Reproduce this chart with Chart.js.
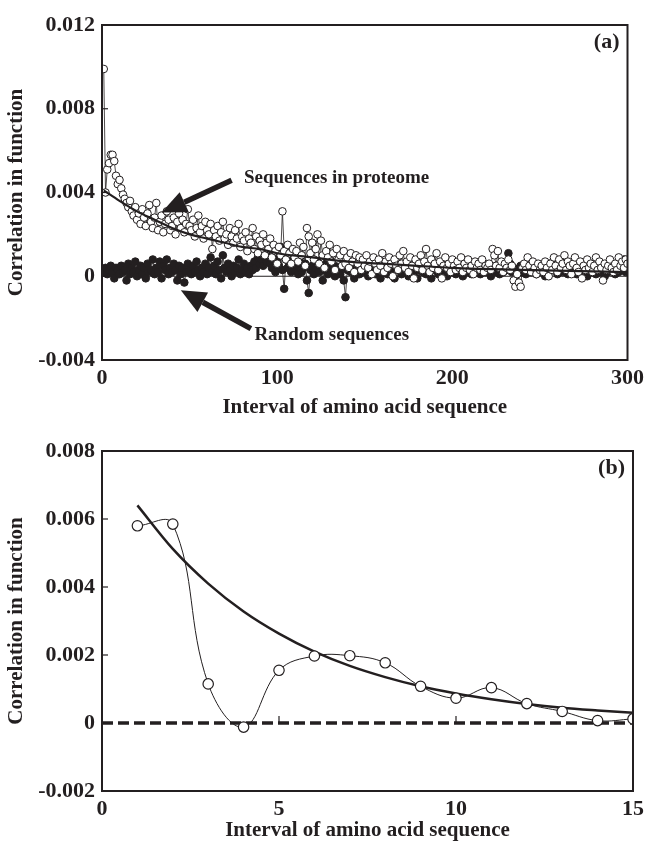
<!DOCTYPE html>
<html>
<head>
<meta charset="utf-8">
<script src="https://cdn.jsdelivr.net/npm/chart.js@4.4.0/dist/chart.umd.min.js"></script>
<style>
  body { margin: 0; background: #fff; }
  canvas { position: absolute; left: 0; }
</style>
</head>
<body>
<canvas id="chartA" width="649" height="420" style="top:0"></canvas>
<canvas id="chartB" width="649" height="423" style="top:420px"></canvas>
<script>
// ---- panel (a) : lags 1..300
const lagsA = Array.from({ length: 300 }, (_, i) => i + 1);

const proteome = [
  0.0099, 0.0040, 0.0051, 0.0054, 0.0058, 0.0058, 0.0055, 0.0048, 0.0044, 0.0046,
  0.0042, 0.0039, 0.0037, 0.0035, 0.0033, 0.0036, 0.0031, 0.0029, 0.0033, 0.0027,
  0.0030, 0.0025, 0.0032, 0.0028, 0.0024, 0.0030, 0.0034, 0.0026, 0.0023, 0.0028,
  0.0035, 0.0022, 0.0026, 0.0029, 0.0021, 0.0025, 0.0031, 0.0027, 0.0022, 0.0024,
  0.0028, 0.0020, 0.0026, 0.0030, 0.0023, 0.0027, 0.0021, 0.0025, 0.0032, 0.0024,
  0.0022, 0.0027, 0.0019, 0.0023, 0.0029, 0.0021, 0.0024, 0.0018, 0.0026, 0.0022,
  0.0020, 0.0025, 0.0013, 0.0022, 0.0019, 0.0024, 0.0017, 0.0021, 0.0026, 0.0018,
  0.0020, 0.0015, 0.0023, 0.0019, 0.0016, 0.0022, 0.0018, 0.0025, 0.0014, 0.0019,
  0.0017, 0.0021, 0.0012, 0.0018, 0.0016, 0.0023, 0.0013, 0.0019, 0.0011, 0.0017,
  0.0015, 0.0020, 0.0010, 0.0016, 0.0013, 0.0018, 0.0009, 0.0015, 0.0012, 0.0006,
  0.0014, 0.0010, 0.0031, 0.0012, 0.0008, 0.0015, 0.0011, 0.0006, 0.0013, 0.0009,
  0.0012, 0.0007, 0.0016, 0.0010, 0.0014, 0.0005, 0.0023, 0.0019, 0.0011, 0.0016,
  0.0008, 0.0013, 0.0020, 0.0006, 0.0017, 0.0010, 0.0004, 0.0012, 0.0009, 0.0015,
  0.0007, 0.0011, 0.0003, 0.0013, 0.0008, 0.0010, 0.0005, 0.0012, 0.0006, 0.0009,
  0.0004, 0.0011, 0.0007, 0.0002, 0.0010, 0.0006, 0.0009, 0.0003, 0.0008, 0.0005,
  0.0010, 0.0004, 0.0007, 0.0001, 0.0009, 0.0006, 0.0003, 0.0008, 0.0005, 0.0011,
  0.0002, 0.0007, 0.0004, 0.0009, 0.0006, 0.0000, 0.0008, 0.0005, 0.0003, 0.0010,
  0.0006, 0.0012, 0.0004, 0.0007, 0.0002, 0.0009, 0.0005, -0.0001, 0.0008, 0.0004,
  0.0006, 0.0010, 0.0003, 0.0007, 0.0013, 0.0005, 0.0002, 0.0008, 0.0004, 0.0006,
  0.0011, 0.0003, 0.0007, -0.0001, 0.0005, 0.0009, 0.0004, 0.0006, 0.0002, 0.0008,
  0.0005, 0.0003, 0.0007, 0.0004, 0.0009, 0.0002, 0.0006, 0.0004, 0.0008, 0.0003,
  0.0005, 0.0001, 0.0007, 0.0004, 0.0006, 0.0003, 0.0008, 0.0002, 0.0005, 0.0004,
  0.0006, 0.0003, 0.0013, 0.0010, 0.0005, 0.0012, 0.0004, 0.0007, 0.0002, 0.0006,
  0.0004, 0.0008, 0.0003, 0.0005, -0.0002, -0.0005, 0.0001, -0.0003, -0.0005, 0.0004,
  0.0006, 0.0003, 0.0009, 0.0005, 0.0002, 0.0007, 0.0004, 0.0001, 0.0006, 0.0003,
  0.0005, 0.0002, 0.0007, 0.0004, 0.0000, 0.0006, 0.0003, 0.0009, 0.0005, 0.0002,
  0.0008, 0.0004, 0.0006, 0.0010, 0.0003, 0.0007, 0.0005, 0.0001, 0.0006, 0.0009,
  0.0004, 0.0002, 0.0007, -0.0001, 0.0005, 0.0003, 0.0008, 0.0004, 0.0006, 0.0002,
  0.0005, 0.0009, 0.0003, 0.0007, 0.0004, -0.0002, 0.0006, 0.0003, 0.0005, 0.0008,
  0.0004, 0.0002, 0.0006, 0.0003, 0.0009, 0.0005, 0.0007, 0.0004, 0.0008, 0.0006
];

const randomSeq = [
  0.0002, 0.0004, 0.0001, 0.0003, 0.0005, 0.0002, -0.0001, 0.0004, 0.0003, 0.0001,
  0.0005, 0.0002, 0.0003, -0.0002, 0.0006, 0.0001, 0.0004, 0.0002, 0.0007, 0.0000,
  0.0003, 0.0005, 0.0001, 0.0004, -0.0001, 0.0006, 0.0002, 0.0003, 0.0008, 0.0001,
  0.0004, 0.0002, 0.0007, -0.0001, 0.0005, 0.0003, 0.0008, 0.0001, 0.0004, 0.0002,
  0.0006, 0.0003, -0.0002, 0.0005, 0.0001, 0.0004, -0.0003, 0.0002, 0.0006, 0.0003,
  0.0001, 0.0005, 0.0002, 0.0007, 0.0003, 0.0000, 0.0004, 0.0002, 0.0006, 0.0001,
  0.0004, 0.0009, 0.0002, 0.0005, 0.0001, 0.0007, 0.0003, -0.0001, 0.0010, 0.0004,
  0.0002, 0.0006, 0.0003, 0.0000, 0.0005, 0.0002, 0.0004, 0.0008, 0.0001, 0.0003,
  0.0006, 0.0002, 0.0004, 0.0001, 0.0005, 0.0003, 0.0007, 0.0004, 0.0009, 0.0006,
  0.0008, 0.0005, 0.0010, 0.0007, 0.0012, 0.0006, 0.0004, 0.0009, 0.0002, 0.0007,
  0.0005, 0.0014, 0.0003, -0.0006, 0.0008, 0.0004, 0.0006, 0.0002, 0.0009, 0.0003,
  0.0005, 0.0001, 0.0007, 0.0002, 0.0004, 0.0006, -0.0002, -0.0008, 0.0003, 0.0005,
  0.0001, 0.0004, 0.0007, 0.0002, 0.0005, -0.0002, 0.0003, 0.0006, 0.0001, 0.0004,
  0.0002, 0.0005, 0.0000, 0.0003, 0.0006, 0.0001, 0.0004, -0.0002, -0.0010, 0.0003,
  0.0005, 0.0002, 0.0004, -0.0001, 0.0003, 0.0006, 0.0001, 0.0004, 0.0002, 0.0005,
  0.0003, 0.0000, 0.0004, 0.0002, 0.0006, 0.0001, 0.0003, 0.0005, -0.0001, 0.0004,
  0.0002, 0.0005, 0.0001, 0.0003, 0.0006, 0.0002, -0.0001, 0.0004, 0.0003, 0.0005,
  0.0001, 0.0004, 0.0002, 0.0006, 0.0000, 0.0003, 0.0005, 0.0002, 0.0004, -0.0001,
  0.0003, 0.0006, 0.0002, 0.0004, 0.0001, 0.0005, 0.0002, -0.0001, 0.0004, 0.0003,
  0.0005, 0.0001, 0.0004, 0.0002, 0.0006, 0.0003, 0.0000, 0.0004, 0.0002, 0.0005,
  0.0003, 0.0001, 0.0005, 0.0002, 0.0004, 0.0000, 0.0003, 0.0005, 0.0002, 0.0004,
  0.0001, 0.0003, 0.0005, 0.0002, 0.0004, 0.0001, 0.0003, 0.0006, 0.0002, 0.0004,
  0.0003, 0.0000, 0.0004, 0.0002, 0.0005, 0.0003, 0.0001, 0.0004, 0.0002, 0.0005,
  0.0003, 0.0011, 0.0006, 0.0002, 0.0004, -0.0002, 0.0001, 0.0003, 0.0005, 0.0002,
  0.0004, 0.0001, 0.0003, 0.0005, 0.0002, 0.0006, 0.0003, 0.0001, 0.0004, 0.0002,
  0.0005, 0.0003, 0.0000, 0.0004, 0.0002, 0.0006, 0.0003, 0.0008, 0.0004, 0.0001,
  0.0003, 0.0005, 0.0002, 0.0007, 0.0004, 0.0001, 0.0003, 0.0006, 0.0002, 0.0004,
  0.0001, 0.0003, 0.0005, 0.0002, 0.0006, 0.0003, 0.0000, 0.0004, 0.0002, 0.0005,
  0.0003, 0.0001, 0.0004, 0.0002, 0.0005, 0.0003, 0.0000, 0.0004, 0.0002, 0.0006,
  0.0003, 0.0005, 0.0001, 0.0004, 0.0002, 0.0006, 0.0003, 0.0008, 0.0002, 0.0004
];

// fitted decay curve in (a)
const fitAX = [1, 10, 20, 30, 40, 50, 60, 70, 80, 90, 100, 120, 140, 160, 180, 200, 240, 300];
const fitAY = [0.0041, 0.0036, 0.0031, 0.0027, 0.0023, 0.0020, 0.0018, 0.0016, 0.0014, 0.0013, 0.0011,
               0.0009, 0.0007, 0.0006, 0.0005, 0.0004, 0.0003, 0.0002];
const zeroAX = [0, 300];
const zeroAY = [0, 0];

// ---- panel (b) : lags 1..15
const lagsB = [1, 2, 3, 4, 5, 6, 7, 8, 9, 10, 11, 12, 13, 14, 15];
const proteomeB = [0.0058, 0.00585, 0.00115, -0.00012, 0.00155, 0.00197, 0.00198, 0.00177,
                   0.00108, 0.00073, 0.00104, 0.00057, 0.00034, 0.00007, 0.00012];
const fitBY = [0.0064, 0.00512, 0.0041, 0.00328, 0.00263, 0.0021, 0.00168, 0.00135,
               0.00108, 0.00087, 0.0007, 0.00056, 0.00045, 0.00037, 0.0003];
const zeroBX = [0, 15];
const zeroBY = [0, 0];

const ink = '#231f20';
const serif = '"Liberation Serif", "Times New Roman", serif';

const pts = (xs, ys) => xs.map((x, i) => ({ x: x, y: ys[i] }));
const fmt = v => Math.abs(v) < 1e-9 ? '0' : v.toFixed(3);

function drawArrow(ctx, x1, y1, x2, y2) {
    const ang = Math.atan2(y2 - y1, x2 - x1);
    const headLen = 25, headW = 11;
    const bx = x2 - headLen * Math.cos(ang), by = y2 - headLen * Math.sin(ang);
    ctx.lineWidth = 5.5;
    ctx.beginPath();
    ctx.moveTo(x1, y1);
    ctx.lineTo(bx, by);
    ctx.stroke();
    ctx.beginPath();
    ctx.moveTo(x2, y2);
    ctx.lineTo(bx + headW * Math.sin(ang), by - headW * Math.cos(ang));
    ctx.lineTo(bx - headW * Math.sin(ang), by + headW * Math.cos(ang));
    ctx.closePath();
    ctx.fill();
}

// frame, inward ticks, labels and arrows
const framePlugin = {
    id: 'frame',
    afterDatasetsDraw(chart, args, opts) {
        const { ctx, chartArea: a, scales } = chart;
        const xs = scales.x, ys = scales.y;
        ctx.save();
        ctx.strokeStyle = ink;
        ctx.fillStyle = ink;
        // inward ticks on left axis
        ctx.lineWidth = 1.2;
        ys.ticks.forEach(t => {
            const py = ys.getPixelForValue(t.value);
            if (py <= a.top + 1 || py >= a.bottom - 1) return;
            ctx.beginPath(); ctx.moveTo(a.left, py); ctx.lineTo(a.left + 6, py); ctx.stroke();
        });
        if (opts.xTicksAtZero) {
            const py = ys.getPixelForValue(0);
            xs.ticks.forEach(t => {
                const px = xs.getPixelForValue(t.value);
                if (px <= a.left + 1 || px >= a.right - 1) return;
                ctx.beginPath(); ctx.moveTo(px, py); ctx.lineTo(px, py - 7); ctx.stroke();
            });
        }
        (opts.arrows || []).forEach(ar => {
            drawArrow(ctx, xs.getPixelForValue(ar.from[0]), ys.getPixelForValue(ar.from[1]),
                      xs.getPixelForValue(ar.to[0]), ys.getPixelForValue(ar.to[1]));
        });
        ctx.textBaseline = 'middle';
        (opts.notes || []).forEach(n => {
            ctx.font = 'bold ' + n.size + 'px ' + serif;
            ctx.textAlign = 'left';
            ctx.fillText(n.text, xs.getPixelForValue(n.at[0]), ys.getPixelForValue(n.at[1]));
        });
        if (opts.tag) {
            ctx.font = 'bold 22px ' + serif;
            ctx.textAlign = 'right';
            ctx.fillText(opts.tag, a.right - 8, a.top + 17);
        }
        ctx.lineWidth = 2;
        ctx.strokeRect(a.left, a.top, a.right - a.left, a.bottom - a.top);
        ctx.restore();
    }
};

function axes(xMin, xMax, xStep, yMin, yMax, yStep, xH) {
    return {
        x: {
            type: 'linear', min: xMin, max: xMax,
            grid: { display: false, drawTicks: false },
            border: { display: false },
            ticks: { stepSize: xStep, color: ink, padding: 5, maxRotation: 0,
                     font: { family: serif, size: 22, weight: 'bold' } },
            title: { display: true, text: 'Interval of amino acid sequence', color: ink,
                     font: { family: serif, size: 21, weight: 'bold' }, padding: { top: 2, bottom: 0 } },
            afterFit: s => { s.height = xH; }
        },
        y: {
            min: yMin, max: yMax,
            grid: { display: false, drawTicks: false },
            border: { display: false },
            ticks: { stepSize: yStep, color: ink, padding: 7, callback: fmt,
                     font: { family: serif, size: 22, weight: 'bold' } },
            title: { display: true, text: 'Correlation in function', color: ink,
                     font: { family: serif, size: 21, weight: 'bold' }, padding: { top: 4, bottom: 0 } },
            afterFit: s => { s.width = 102; }
        }
    };
}

new Chart(document.getElementById('chartA'), {
    type: 'line',
    data: {
        datasets: [
            { data: pts(lagsA, proteome), order: 1, borderColor: ink, borderWidth: 0.8,
              pointRadius: 3.8, pointBackgroundColor: '#fff', pointBorderColor: ink, pointBorderWidth: 1 },
            { data: pts(lagsA, randomSeq), order: 2, borderColor: ink, borderWidth: 0.8,
              pointRadius: 3.8, pointBackgroundColor: ink, pointBorderColor: ink, pointBorderWidth: 1 },
            { data: pts(fitAX, fitAY), order: 0, borderColor: ink, borderWidth: 2.2,
              pointRadius: 0, cubicInterpolationMode: 'monotone' },
            { data: pts(zeroAX, zeroAY), order: 3, borderColor: ink, borderWidth: 1, pointRadius: 0 }
        ]
    },
    options: {
        responsive: false,
        animation: false,
        layout: { padding: { top: 25, right: 16, left: 0, bottom: 0 } },
        plugins: {
            legend: { display: false },
            tooltip: { enabled: false },
            frame: {
                tag: '(a)',
                arrows: [ { from: [74, 0.00458], to: [34, 0.00304] },
                          { from: [85, -0.0025], to: [45, -0.00067] } ],
                notes: [ { text: 'Sequences in proteome', at: [81, 0.00468], size: 19 },
                         { text: 'Random sequences', at: [87, -0.00282], size: 19 } ]
            }
        },
        scales: axes(0, 300, 100, -0.004, 0.012, 0.004, 60)
    },
    plugins: [framePlugin]
});

new Chart(document.getElementById('chartB'), {
    type: 'line',
    data: {
        datasets: [
            { data: pts(lagsB, proteomeB), order: 0, borderColor: ink, borderWidth: 1, tension: 0.4,
              pointRadius: 5.2, pointBackgroundColor: '#fff', pointBorderColor: ink, pointBorderWidth: 1.2 },
            { data: pts(lagsB, fitBY), order: 1, borderColor: ink, borderWidth: 2.5,
              pointRadius: 0, cubicInterpolationMode: 'monotone' },
            { data: pts(zeroBX, zeroBY), order: 2, borderColor: ink, borderWidth: 3.5,
              borderDash: [11, 5], pointRadius: 0 }
        ]
    },
    options: {
        responsive: false,
        animation: false,
        layout: { padding: { top: 31, right: 15, left: 0, bottom: 0 } },
        plugins: {
            legend: { display: false },
            tooltip: { enabled: false },
            frame: { tag: '(b)', xTicksAtZero: true }
        },
        scales: axes(0, 15, 5, -0.002, 0.008, 0.002, 52)
    },
    plugins: [framePlugin]
});
</script>
</body>
</html>
